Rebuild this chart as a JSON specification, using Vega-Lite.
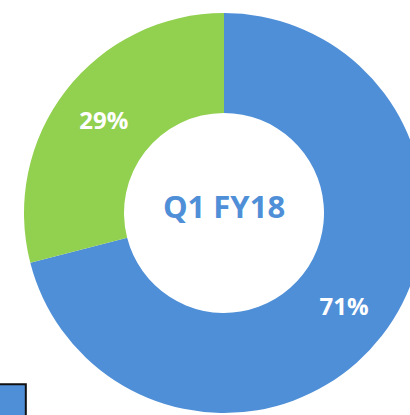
{
  "$schema": "https://vega.github.io/schema/vega-lite/v6.json",
  "width": 448,
  "height": 426,
  "autosize": "none",
  "padding": 0,
  "background": "white",
  "config": {"view": {"stroke": null}},
  "data": {"values": [
    {"cat": "Series 1", "value": 71, "label": "71%", "order": 1},
    {"cat": "Series 2", "value": 29, "label": "29%", "order": 2}
  ]},
  "layer": [
    {
      "mark": {"type": "arc", "innerRadius": 100, "outerRadius": 200},
      "encoding": {
        "theta": {"field": "value", "type": "quantitative", "stack": true},
        "order": {"field": "order"},
        "color": {
          "field": "cat", "type": "nominal",
          "scale": {"domain": ["Series 1", "Series 2"], "range": ["#4F8FD7", "#92D050"]},
          "legend": {"orient": "none", "legendX": -10, "legendY": 383, "title": null, "symbolType": "square", "symbolSize": 1200, "symbolStrokeColor": "#111111", "symbolStrokeWidth": 2, "symbolOpacity": 1, "labelOpacity": 0, "labelFontSize": 8, "rowPadding": 10}
        }
      }
    },
    {
      "mark": {"type": "text", "radius": 152, "dy": 2, "fontSize": 24, "fontWeight": "bold", "font": "Open Sans", "fill": "white"},
      "encoding": {
        "theta": {"field": "value", "type": "quantitative", "stack": true},
        "order": {"field": "order"},
        "text": {"field": "label"}
      }
    },
    {
      "data": {"values": [{"t": "Q1 FY18"}]},
      "mark": {"type": "text", "fontSize": 31, "dy": -4, "fontWeight": "bold", "font": "Open Sans", "color": "#4F8FD7"},
      "encoding": {"text": {"field": "t"}}
    }
  ]
}
